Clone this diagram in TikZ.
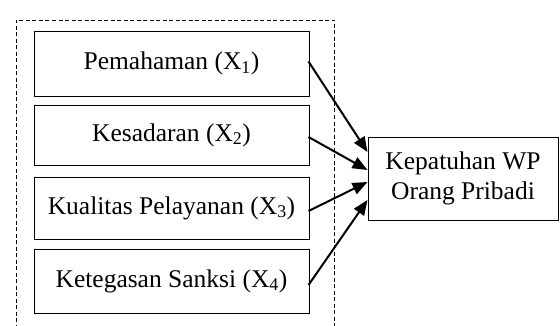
\documentclass[tikz,border=0pt]{standalone}
\usepackage{fontspec}
\setmainfont{Liberation Serif}
\usetikzlibrary{arrows.meta,calc}
\tikzset{
  varbox/.style={draw, line width=1pt, minimum width=275pt, inner sep=0pt, align=center, font=\fontsize{25.5}{30}\selectfont},
  outbox/.style={draw, line width=1pt, minimum width=190pt, minimum height=83pt, inner sep=0pt, align=center, font=\fontsize{25.5}{30}\selectfont},
  frame/.style={draw, line width=0.9pt, dash pattern=on 4pt off 2.5pt},
  conn/.style={line width=2pt, -{Triangle[length=15pt,width=12pt]}}
}
\begin{document}
\begin{tikzpicture}[x=1pt,y=1pt]
\useasboundingbox (0,0) rectangle (560,325);
\draw[frame] (16,-10) -- (16,305) -- (334,305) -- (334,-10);
\node[varbox, minimum height=65pt] (x1) at (171.5,261.5) {Pemahaman (X\textsubscript{1})};
\node[varbox, minimum height=60pt] (x2) at (171.5,190) {Kesadaran (X\textsubscript{2})};
\node[varbox, minimum height=62pt] (x3) at (171.5,117) {Kualitas Pelayanan (X\textsubscript{3})};
\node[varbox, minimum height=64pt] (x4) at (171.5,44) {Ketegasan Sanksi (X\textsubscript{4})};
\node[outbox] (y) at (463,146.5) {Kepatuhan WP\\Orang Pribadi};
\draw[conn] ($(x1.east)+(-1,2)$) -- ($(y.west)+(0,26.5)$);
\draw[conn] ($(x2.east)+(-1,-2)$) -- ($(y.west)+(0,8.5)$);
\draw[conn] ($(x3.east)+(-1,-3)$) -- ($(y.west)+(0,-3.5)$);
\draw[conn] ($(x4.east)+(-1,-4)$) -- ($(y.west)+(0,-21.5)$);
\end{tikzpicture}
\end{document}
